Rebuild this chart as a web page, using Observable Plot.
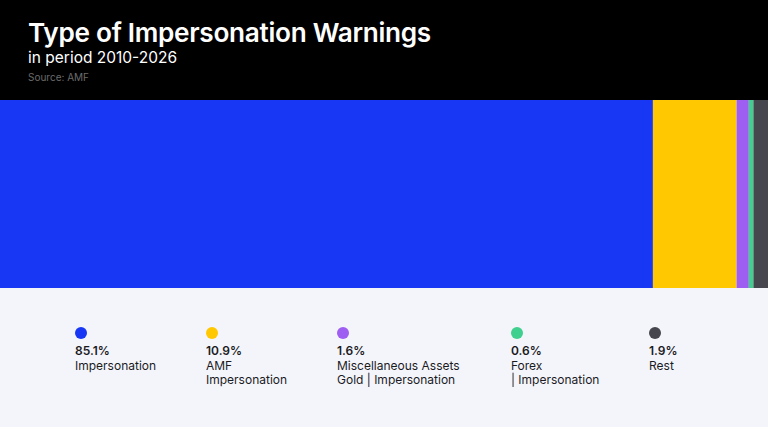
<!DOCTYPE html>
<html>
<head>
<meta charset="utf-8">
<script src="https://cdn.jsdelivr.net/npm/d3@7"></script>
<script src="https://cdn.jsdelivr.net/npm/@observablehq/plot@0.6"></script>
<style>
  html, body { margin: 0; padding: 0; width: 768px; height: 427px; overflow: hidden; font-family: Inter, "Noto Sans", sans-serif; }
  #header { position: absolute; left: 0; top: 0; width: 768px; height: 100px; background: #000; color: #fff; }
  #title { position: absolute; left: 28px; top: 16px; font-size: 26.2px; font-weight: 600; letter-spacing: -0.3px; line-height: 34px; white-space: nowrap; }
  #subtitle { position: absolute; left: 28px; top: 48px; font-size: 15.5px; font-weight: 400; line-height: 20px; white-space: nowrap; }
  #source { position: absolute; left: 28px; top: 71px; font-size: 10px; color: #6b6b6b; line-height: 13px; white-space: nowrap; }
  #chart { position: absolute; left: 0; top: 100px; width: 768px; height: 188px; }
  #legend { position: absolute; left: 0; top: 288px; width: 768px; height: 139px; background: #f4f5fb; }
  .item { position: absolute; top: 39px; }
  .dot { width: 12px; height: 12px; border-radius: 50%; }
  .txt { margin-top: 5px; font-size: 12px; line-height: 14.6px; color: #1b1b1f; white-space: nowrap; }
  .pct { font-weight: 600; }
</style>
</head>
<body>
<div id="header">
  <div id="title">Type of Impersonation Warnings</div>
  <div id="subtitle">in period 2010-2026</div>
  <div id="source">Source: AMF</div>
</div>
<div id="chart"></div>
<div id="legend"></div>
<script>
const categories = ["Impersonation", "AMF Impersonation", "Miscellaneous Assets Gold | Impersonation", "Forex | Impersonation", "Rest"];
const labelLines = [["Impersonation"], ["AMF", "Impersonation"], ["Miscellaneous Assets", "Gold | Impersonation"], ["Forex", "| Impersonation"], ["Rest"]];
const shares = [85.1, 10.9, 1.6, 0.6, 1.9];
const colors = ["#1737f5", "#ffc800", "#9f5ef2", "#3fcf8e", "#46464f"];
const legendX = [75, 206, 337, 511, 649];

const data = categories.map((c, i) => ({category: c, share: shares[i]}));
const total = d3.sum(shares);

const plot = Plot.plot({
  width: 768,
  height: 188,
  margin: 0,
  x: {domain: [0, total], axis: null},
  y: {axis: null},
  color: {domain: categories, range: colors},
  marks: [
    Plot.barX(data, Plot.stackX({x: "share", fill: "category", order: null}))
  ]
});
document.getElementById("chart").appendChild(plot);

const legend = document.getElementById("legend");
categories.forEach((c, i) => {
  const item = document.createElement("div");
  item.className = "item";
  item.style.left = legendX[i] + "px";
  const dot = document.createElement("div");
  dot.className = "dot";
  dot.style.background = colors[i];
  item.appendChild(dot);
  const txt = document.createElement("div");
  txt.className = "txt";
  const pct = document.createElement("div");
  pct.className = "pct";
  pct.textContent = shares[i].toFixed(1) + "%";
  txt.appendChild(pct);
  labelLines[i].forEach(l => {
    const d = document.createElement("div");
    d.textContent = l;
    txt.appendChild(d);
  });
  item.appendChild(txt);
  legend.appendChild(item);
});
</script>
</body>
</html>
